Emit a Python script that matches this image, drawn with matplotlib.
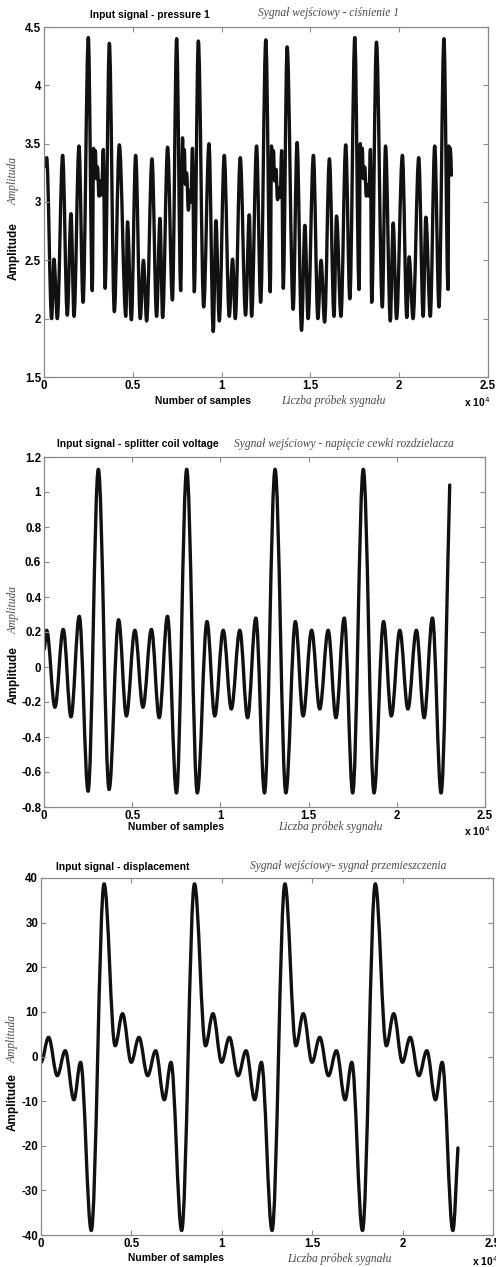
import matplotlib
matplotlib.use('Agg')
import matplotlib.pyplot as plt
from matplotlib.path import Path
from matplotlib.patches import PathPatch

plt.rcParams['font.family'] = ['Liberation Sans', 'DejaVu Sans']

# x tick values (samples) and their labels (x 10^4)
x_ticks = [0, 5000, 10000, 15000, 20000, 25000]
x_tick_labels = ['0', '0.5', '1', '1.5', '2', '2.5']

# panel 1 - pressure: extrema (sample, value)
p_x = [0, 150, 430, 560, 750, 1050, 1310, 1520, 1690, 1970, 2200, 2495, 2720, 2790,
       2840, 2890, 2950, 3010, 3100, 3170, 3240, 3340, 3440, 3680, 3960, 4240, 4610,
       4700, 4920,
       5160, 5420, 5600, 5780, 6080, 6340, 6530, 6680, 6960, 7230, 7470, 7700, 7800,
       7850, 7900, 7960, 8030, 8130, 8200, 8270, 8360, 8460, 8690, 8990, 9290, 9530,
       9680, 9870,
       10150, 10430, 10620, 10770, 11050, 11350, 11560, 11690, 11970, 12200, 12490,
       12740, 12810, 12860, 12920, 12980, 13060, 13150, 13230, 13300, 13380, 13470,
       13690, 14030, 14250, 14500, 14690, 14870,
       15170, 15420, 15600, 15800, 16070, 16330, 16470, 16720, 16990, 17220, 17500,
       17740, 17810, 17860, 17920, 17980, 18060, 18150, 18220, 18300, 18380, 18450,
       18720, 19050, 19230, 19500, 19660, 19850,
       20180, 20430, 20560, 20780, 21100, 21350, 21500, 21750, 22000, 22240, 22520,
       22750, 22790, 22840, 22880, 22940]
p_y = [3.30, 3.38, 2.00, 2.51, 2.00, 3.40, 2.03, 2.90, 2.02, 3.48, 2.14, 4.41, 2.24, 3.46,
       3.28, 3.44, 3.20, 3.30, 3.05, 3.18, 3.06, 3.45, 2.26, 4.36, 2.06, 3.49, 2.02,
       2.83, 1.99,
       3.40, 2.00, 2.50, 1.98, 3.37, 2.02, 2.86, 2.01, 3.47, 2.16, 4.40, 2.24, 3.55,
       3.30, 3.45, 3.15, 3.25, 2.93, 3.10, 3.00, 3.46, 2.23, 4.38, 2.10, 3.50, 1.89,
       2.84, 1.98,
       3.40, 2.02, 2.51, 2.00, 3.38, 2.03, 2.89, 2.02, 3.48, 2.14, 4.39,
       2.23, 3.48, 3.28, 3.44, 3.18, 3.28, 3.02, 3.12, 3.04, 3.44, 2.26,
       4.33, 2.08, 3.51, 1.90, 2.80, 2.00,
       3.40, 2.00, 2.50, 1.97, 3.37, 2.02, 2.88, 2.02, 3.49, 2.17, 4.41,
       2.25, 3.50, 3.30, 3.46, 3.20, 3.30, 3.05, 3.15, 3.05, 3.45, 2.14,
       4.37, 2.10, 3.48, 1.98, 2.82, 2.00,
       3.40, 2.01, 2.53, 2.00, 3.38, 2.02, 2.87, 2.02, 3.48, 2.10, 4.40,
       2.25, 3.48, 3.30, 3.46, 3.23]
p_yticks = [1.5, 2, 2.5, 3, 3.5, 4, 4.5]
p_ylabels = ['1.5', '2', '2.5', '3', '3.5', '4', '4.5']

# panel 2 - splitter coil voltage
v_x = [0, 150, 620, 1090, 1530, 2000, 2500, 3080, 3690, 4230, 4670, 5150, 5610, 6090,
       6530, 7000, 7510, 8090, 8690, 9240, 9680, 10160, 10620, 11100, 11540, 12010,
       12500, 13100, 13710, 14250, 14690, 15170, 15630, 16110, 16550, 17020, 17500,
       18100, 18710, 19250, 19690, 20170, 20630, 21110, 21550, 22020, 22510, 23000]
v_y = [0.10, 0.21, -0.23, 0.215, -0.285, 0.29, -0.71, 1.13, -0.70, 0.27, -0.28, 0.21,
       -0.23, 0.215, -0.29, 0.29, -0.72, 1.13, -0.72, 0.26, -0.28, 0.21, -0.24, 0.21,
       -0.29, 0.28, -0.72, 1.13, -0.72, 0.26, -0.28, 0.21, -0.24, 0.21, -0.29, 0.28,
       -0.72, 1.13, -0.72, 0.26, -0.28, 0.21, -0.24, 0.21, -0.29, 0.28, -0.72, 1.04]
v_yticks = [-0.8, -0.6, -0.4, -0.2, 0, 0.2, 0.4, 0.6, 0.8, 1.0, 1.2]
v_ylabels = ['-0.8', '-0.6', '-0.4', '-0.2', '0', '0.2', '0.4', '0.6', '0.8', '1', '1.2']

# panel 3 - displacement
d_x = [0, 420, 900, 1340, 1820, 2190, 2780, 3490, 4100, 4510, 4990, 5420, 5900, 6340,
       6820, 7190, 7780, 8490, 9100, 9510, 9990, 10420, 10900, 11340, 11820, 12190,
       12780, 13490, 14100, 14510, 14990, 15420, 15900, 16340, 16820, 17190, 17780,
       18490, 19100, 19510, 19990, 20420, 20900, 21340, 21820, 22190, 22780, 23060]
d_y = [-1.3, 4.3, -4.3, 1.3, -9.7, -1.3, -39.0, 38.7, 2.4, 9.6, -1.3, 4.3, -4.3, 1.3,
       -9.7, -1.3, -39.0, 38.7, 2.4, 9.6, -1.3, 4.3, -4.3, 1.3, -9.7, -1.3,
       -39.0, 38.7, 2.4, 9.6, -1.3, 4.3, -4.3, 1.3, -9.7, -1.3, -39.0,
       38.7, 2.4, 9.6, -1.3, 4.3, -4.3, 1.3, -9.7, -1.3, -39.0, -20.5]
d_yticks = [-40, -30, -20, -10, 0, 10, 20, 30, 40]
d_ylabels = ['-40', '-30', '-20', '-10', '0', '10', '20', '30', '40']

W, H = 496, 1267
EN = dict(family=['Liberation Sans', 'DejaVu Sans'], fontweight='bold', fontsize=7.4)
YL = dict(family=['Liberation Sans', 'DejaVu Sans'], fontweight='bold', fontsize=8.5)
PL = dict(family=['Liberation Serif', 'DejaVu Serif'], style='italic', fontsize=8.3,
          color='#4a4a4a')


def smooth(xs, ys, k=0.36):
    # cubic segments with flat tangents at each read extremum
    verts = [(xs[0], ys[0])]
    codes = [Path.MOVETO]
    n = len(xs)
    for i in range(n - 1):
        x0, y0, x1, y1 = xs[i], ys[i], xs[i + 1], ys[i + 1]
        dx = x1 - x0
        c1 = (x0 + k * dx, y0)
        c2 = (x1 - k * dx, y1)
        if i == n - 2:
            c2 = (x1 - dx / 3, y1 - (y1 - y0) / 3)
        verts += [c1, c2, (x1, y1)]
        codes += [Path.CURVE4] * 3
    return Path(verts, codes)


def panel(rect, xs, ys, ylim, yticks, ylabels):
    l, r, t, b = rect
    ax = fig.add_axes([l / W, 1 - b / H, (r - l) / W, (b - t) / H])
    ax.add_patch(PathPatch(smooth(xs, ys), fill=False, lw=2.4, ec='#111111',
                           capstyle='round', joinstyle='round'))
    ax.set_xlim(0, 25000)
    ax.set_ylim(*ylim)
    ax.set_xticks(x_ticks)
    ax.set_xticklabels(x_tick_labels)
    ax.set_yticks(yticks)
    ax.set_yticklabels(ylabels)
    ax.tick_params(direction='in', length=3.5, width=0.8, color='#8a8a8a',
                   top=True, right=True, pad=2, labelsize=8.3)
    for lab in ax.get_xticklabels() + ax.get_yticklabels():
        lab.set_fontweight('bold')
    for s in ax.spines.values():
        s.set_color('#8a8a8a')
        s.set_linewidth(0.9)
    return ax


def txt(x, y, s, props, **kw):
    fig.text(x / W, 1 - y / H, s, ha='center', va='center', **props, **kw)


fig = plt.figure(figsize=(W / 100, H / 100), dpi=100)

panel((44, 488, 27, 377), p_x, p_y, (1.5, 4.5), p_yticks, p_ylabels)
txt(150, 15, 'Input signal - pressure 1', EN)
txt(329, 13, 'Sygnał wejściowy - ciśnienie 1', PL)
txt(203, 401, 'Number of samples', EN)
txt(333, 401, 'Liczba próbek sygnału', PL)
txt(477, 402, r'x 10$^{4}$', EN)
txt(14, 181, 'Amplituda', PL, rotation=90)
txt(14, 251, 'Amplitude', YL, rotation=90)

panel((44, 485, 457, 807), v_x, v_y, (-0.8, 1.2), v_yticks, v_ylabels)
txt(138, 444, 'Input signal - splitter coil voltage', EN)
txt(344, 444, 'Sygnał wejściowy - napięcie cewki rozdzielacza', PL)
txt(176, 827, 'Number of samples', EN)
txt(330, 827, 'Liczba próbek sygnału', PL)
txt(477, 831, r'x 10$^{4}$', EN)
txt(14, 610, 'Amplituda', PL, rotation=90)
txt(14, 675, 'Amplitude', YL, rotation=90)

panel((41, 493, 878, 1235), d_x, d_y, (-40, 40), d_yticks, d_ylabels)
txt(123, 867, 'Input signal - displacement', EN)
txt(348, 866, 'Sygnał wejściowy- sygnał przemieszczenia', PL)
txt(176, 1258, 'Number of samples', EN)
txt(339, 1259, 'Liczba próbek sygnału', PL)
txt(485, 1261, r'x 10$^{4}$', EN)
txt(13, 1039, 'Amplituda', PL, rotation=90)
txt(13, 1102, 'Amplitude', YL, rotation=90)

fig.savefig('out.png', dpi=100)
